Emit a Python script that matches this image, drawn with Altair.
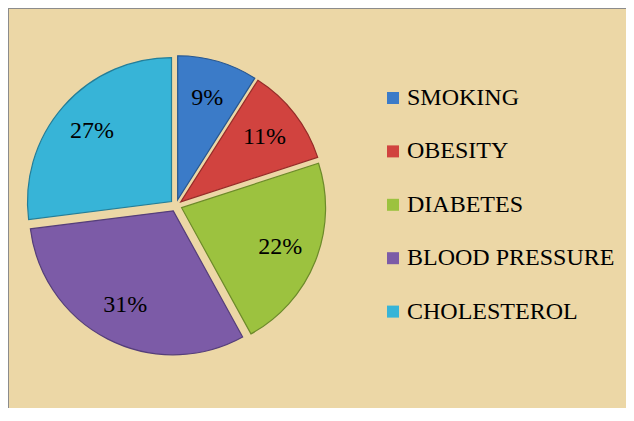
import altair as alt
import pandas as pd

title_text = "Cardio Vascular Diseases"
categories = ["SMOKING", "OBESITY", "DIABETES", "BLOOD PRESSURE", "CHOLESTEROL"]
values = [9, 11, 22, 31, 27]
labels = ["9%", "11%", "22%", "31%", "27%"]
fill_colors = ["#3b7bc8", "#d1433f", "#9cc23f", "#7c5ba7", "#37b4d7"]
edge_colors = ["#27568f", "#952c29", "#6c8a2a", "#553e7a", "#237e99"]

df = pd.DataFrame({"cat": categories, "value": values, "label": labels,
                   "idx": list(range(len(categories)))})

W, H = 618, 400
CX, CY, R, D = 168, 197.5, 144, 6
FONT = "Liberation Serif"

base = alt.Chart(df).transform_joinaggregate(
    total="sum(value)"
).transform_window(
    cum="sum(value)", sort=[alt.SortField("idx")], frame=[None, 0]
).transform_calculate(
    a0="(datum.cum - datum.value) / datum.total * 2 * PI",
    a1="datum.cum / datum.total * 2 * PI",
).transform_calculate(
    mid="(datum.a0 + datum.a1) / 2",
).transform_calculate(
    px=f"{CX} + {D} * sin(datum.mid)",
    py=f"{CY} - {D} * cos(datum.mid)",
)

pie = base.mark_arc(radius=R, strokeWidth=1.2).encode(
    x=alt.X("px:Q", scale=None), y=alt.Y("py:Q", scale=None),
    theta=alt.Theta("a0:Q", scale=None), theta2="a1:Q",
    color=alt.Color("cat:N", sort=categories,
                    scale=alt.Scale(domain=categories, range=fill_colors),
                    legend=alt.Legend(title=None, orient="none", legendX=373, legendY=78,
                                      symbolType="square", symbolSize=144,
                                      symbolStrokeWidth=0,
                                      labelFont=FONT, labelFontSize=24,
                                      labelColor="black", labelOffset=2,
                                      rowPadding=29.4, padding=0, labelLimit=400)),
    stroke=alt.Stroke("cat:N", scale=alt.Scale(domain=categories, range=edge_colors),
                      legend=None),
)

text = base.mark_text(radius=106, font=FONT, fontSize=24, color="black").encode(
    x=alt.X("px:Q", scale=None), y=alt.Y("py:Q", scale=None),
    theta=alt.Theta("mid:Q", scale=None),
    text="label:N",
)

frame_df = pd.DataFrame({"t": [title_text]})
left_rule = alt.Chart(frame_df).mark_rule(color="#8c8c8c", strokeWidth=2).encode(
    x=alt.value(0), y=alt.value(0), y2=alt.value(H))
top_rule = alt.Chart(frame_df).mark_rule(color="#8c8c8c", strokeWidth=2).encode(
    x=alt.value(0), x2=alt.value(W), y=alt.value(0))
title = alt.Chart(frame_df).mark_text(font=FONT, fontSize=21, fontWeight="bold",
                                      baseline="alphabetic", color="black").encode(
    x=alt.value(310), y=alt.value(-6), text="t:N")

chart = alt.layer(pie, text, left_rule, top_rule, title).properties(
    width=W, height=H,
    autosize=alt.AutoSizeParams(type="none"),
    padding=0,
    background="#ecd7a6",
).configure_view(stroke=None)

chart.save("out.html", embed_options={"renderer": "svg", "actions": False})
